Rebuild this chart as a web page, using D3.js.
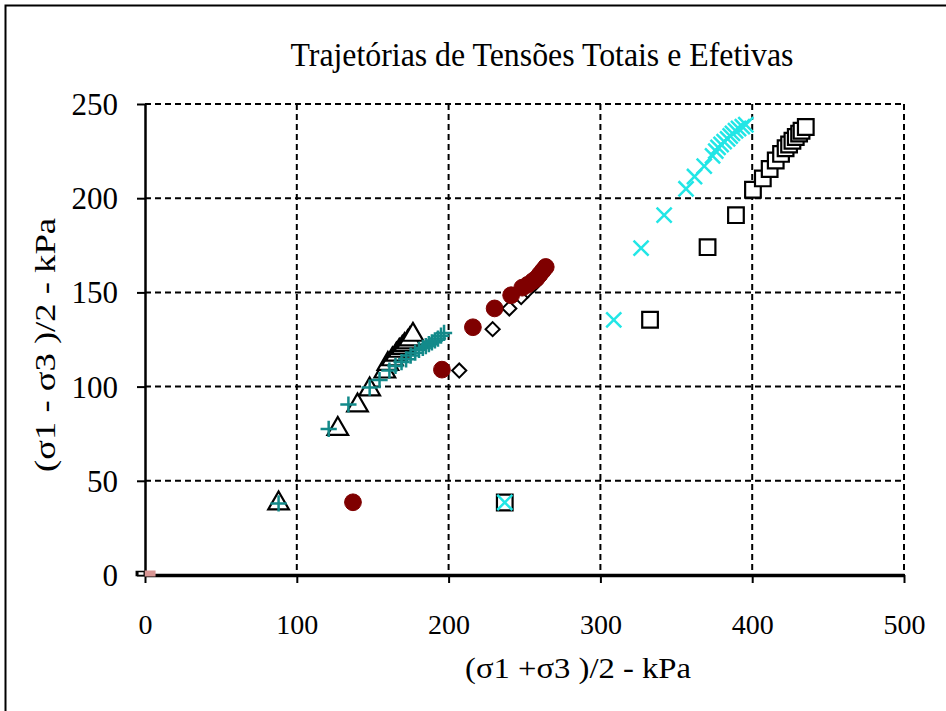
<!DOCTYPE html>
<meta charset="utf-8">
<style>
body { margin: 0; background: #fff; }
text { font-family: "Liberation Serif", "Times New Roman", serif; fill: #000; }
.grid line { stroke: #000; stroke-width: 2; stroke-dasharray: 6,4; }
</style>
<body>
<script src="https://d3js.org/d3.v7.min.js"></script>
<script>

var width = 946
var height = 711

// data: [ (s1+s3)/2 , (s1-s3)/2 ] in kPa
var triangles = [[88,38],[127,77.5],[140,90],[148,98.5],[158,108],[160,112],[163,114.5],[165.6,117],[167.5,119],[169.5,120.5],[171,122],[173,123.5],[174.5,125],[176.5,127.5]]
var pluses = [[88,38],[121,77.5],[134,90.5],[148,99.5],[154.5,103.5],[161,108.5],[165,111],[169,113],[172,114.5],[175,116.5],[178,118],[180.5,119.5],[183,120.5],[185,121.5],[187,122.5],[189,123.5],[191,124.5],[193,125.5],[195,127],[197,128.5]]
var circles = [[137,38.6],[195.6,109],[216,131.5],[230.3,141.5],[241.2,148.5],[248.5,152.5],[252,154],[255.5,156],[258,157.5],[260,159.5],[262,161.5],[264,163.5]]
var diamonds = [[137,38.6],[207,108.5],[229,130.5],[240,141.5],[247.8,147.5],[252,151],[256,154],[259,157],[262,160]]
var squares = [[237,38.5],[332.7,135.5],[370.6,174],[389.3,191],[400.5,204.5],[407,210.5],[411.5,215.5],[415.5,220],[419,223.5],[422,226.5],[424.3,228.5],[426.5,230.5],[428.7,232.5],[430.9,234.3],[432.5,235.8],[435.3,237.8]]
var crosses = [[237,38.5],[308.8,135.4],[326.8,173.5],[342,191],[356.4,205],[362,211.5],[368.4,217],[373.9,222.5],[376,225],[377.5,227],[379.5,228.5],[381.5,230],[383.8,231.5],[385.5,233],[387,234.4],[389,235.8],[391,237],[393.5,238],[395.8,239]]
var originPink = [[3.4,0.8]]
var originBox = [[-2.6,0.8]]

var xTicks = [0,100,200,300,400,500]
var yTicks = [0,50,100,150,200,250]

var titleText = "Trajetórias de Tensões Totais e Efetivas"
var xTitle = "(σ1 +σ3 )/2 - kPa"
var yTitle = "(σ1 - σ3 )/2 - kPa"

var margin = {top: 104, right: 42, bottom: 136, left: 145}
var w = width - margin.left - margin.right
var h = height - margin.top - margin.bottom

var svg = d3.select("body").append("svg")
    .attr("width", width)
    .attr("height", height)

// outer frame (runs off the picture at right and bottom)
svg.append("rect")
    .attr("x", 5.5).attr("y", 5.5)
    .attr("width", width + 20).attr("height", height + 20)
    .attr("fill", "none")
    .attr("stroke", "#000")
    .attr("stroke-width", 2)

var x = d3.scaleLinear().domain([0,500]).range([0, w])
var y = d3.scaleLinear().domain([0,250]).range([h, 0])

var g = svg.append("g")
    .attr("transform", "translate(" + margin.left + "," + margin.top + ")")

// grid
var grid = g.append("g").attr("class", "grid")
grid.selectAll(".gx").data(xTicks.slice(1))
  .enter().append("line")
    .attr("x1", function(d){ return x(d) }).attr("x2", function(d){ return x(d) })
    .attr("y1", 0).attr("y2", h)
grid.selectAll(".gy").data(yTicks.slice(1))
  .enter().append("line")
    .attr("x1", 0).attr("x2", w)
    .attr("y1", function(d){ return y(d) }).attr("y2", function(d){ return y(d) })

// axes
var xAxis = g.append("g")
    .attr("transform", "translate(0," + h + ")")
    .call(d3.axisBottom(x).tickValues(xTicks).tickSize(8).tickSizeOuter(0).tickFormat(d3.format("d")))
xAxis.select(".domain").attr("stroke-width", 3.5)
xAxis.selectAll(".tick line").attr("stroke-width", 2)
xAxis.selectAll(".tick text")
    .attr("y", 59)
    .attr("dy", 0)
    .style("font-size", "28px")
    .style("font-family", "Liberation Serif")

var yAxis = g.append("g")
    .call(d3.axisLeft(y).tickValues(yTicks).tickSize(8).tickSizeOuter(0).tickFormat(d3.format("d")))
yAxis.select(".domain").attr("stroke-width", 2.5)
yAxis.selectAll(".tick line").attr("stroke-width", 2)
yAxis.selectAll(".tick text")
    .attr("x", -27)
    .attr("dy", "0.34em")
    .style("font-size", "31px")
    .style("font-family", "Liberation Serif")

// markers
function plot(data, type, size, fill, stroke, sw, extra) {
  g.append("g").selectAll("path").data(data)
    .enter().append("path")
      .attr("d", d3.symbol().type(type).size(size))
      .attr("transform", function(d){ return "translate(" + x(d[0]) + "," + y(d[1]) + ")" + (extra || "") })
      .attr("fill", fill)
      .attr("stroke", stroke)
      .attr("stroke-width", sw)
}

plot(originBox, d3.symbolSquare, 16, "#fff", "#000", 1.5, " scale(2,1)")
plot(originPink, d3.symbolSquare, 36, "#d99694", "none", 0, " scale(1.8,1)")
plot(squares, d3.symbolSquare, 245, "#fff", "#000", 2.2)
plot(crosses, d3.symbolTimes, 150, "none", "#22e6e6", 2.5)
plot(triangles, d3.symbolTriangle, 185, "#fff", "#000", 2.2)
plot(pluses, d3.symbolPlus, 88, "none", "#138a8a", 2.5)
plot(diamonds, d3.symbolSquare, 100, "#fff", "#000", 2, " rotate(45)")
plot(circles, d3.symbolCircle, 220, "#7f0000", "#7f0000", 1)

// titles
svg.append("text")
    .attr("x", 542).attr("y", 66)
    .attr("text-anchor", "middle")
    .attr("textLength", 503)
    .attr("lengthAdjust", "spacingAndGlyphs")
    .style("font-size", "33px")
    .text(titleText)

svg.append("text")
    .attr("x", 578).attr("y", 678)
    .attr("text-anchor", "middle")
    .attr("textLength", 226)
    .attr("lengthAdjust", "spacingAndGlyphs")
    .style("font-size", "29px")
    .text(xTitle)

svg.append("text")
    .attr("transform", "translate(55,345) rotate(-90)")
    .attr("text-anchor", "middle")
    .attr("textLength", 254)
    .attr("lengthAdjust", "spacingAndGlyphs")
    .style("font-size", "29px")
    .text(yTitle)

</script>
